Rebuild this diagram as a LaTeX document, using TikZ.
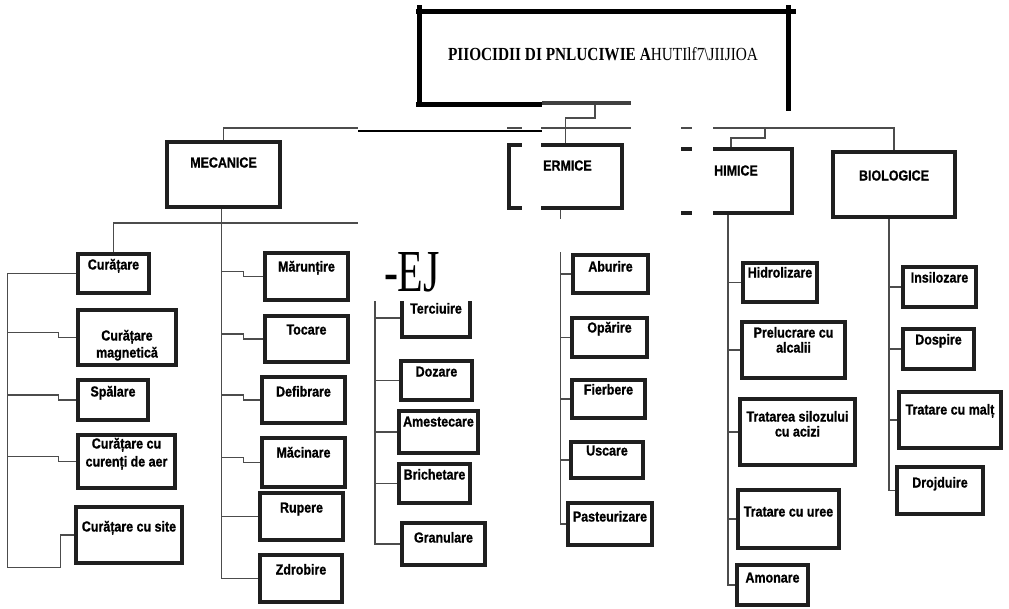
\documentclass[tikz,border=0pt]{standalone}
\usepackage{fontspec}
\usepackage{graphicx}
\setmainfont{Liberation Serif}
\newfontfamily\lblfam{Liberation Sans}[FakeStretch=0.86, BoldFeatures={FakeBold=1}]
\usetikzlibrary{calc}
\newcommand\lblfont{\lblfam\bfseries\fontsize{14.5}{16}\selectfont}
\tikzset{
  box/.style={draw=black!88, line width=3.2pt, inner sep=0pt},
  lbl/.style={font=\lblfont, text=black, inner sep=0pt, anchor=base},
  conn/.style={draw=black!70, line width=1.2pt},
  mask/.style={fill=white, draw=none},
  frame/.style={draw=black, line width=5pt},
}
\newcommand\mkbox[5]{\node[box, minimum width={(#4-#2)*1pt}, minimum height={(#5-#3)*1pt}] (#1) at ({(#2+#4)/2},{(#3+#5)/2}) {};}
\newcommand\mklbl[4]{\node[lbl] (#1) at (#2.center |- 0,#3) {#4};}
\newcommand\jog[3]{\draw[conn] ($(#1 |- #2.west)+(0,-5)$) -- ++(#3,0) |- (#2.west);}
\begin{document}
\begin{tikzpicture}[x=1pt,y=-1pt]
\fill[white] (0,0) rectangle (1009,608);
\useasboundingbox (0,0) rectangle (1009,608);

% category boxes
\mkbox{mec}{167}{142}{280}{207}
\mkbox{ter}{509}{145}{622}{208}
\mkbox{chi}{670}{149}{792}{213}
\mkbox{bio}{833}{152}{955}{217}
% mecanice left
\mkbox{cur}{78}{254}{149}{293}
\mkbox{cmag}{78}{310}{176}{365}
\mkbox{spa}{78}{380}{148}{420}
\mkbox{cca}{78}{435}{175}{488}
\mkbox{csi}{76}{507}{182}{563}
% mecanice right
\mkbox{mar}{265}{253}{348}{300}
\mkbox{toc}{265}{316}{348}{362}
\mkbox{def}{262}{377}{345}{423}
\mkbox{mac}{262}{438}{345}{487}
\mkbox{rup}{260}{493}{343}{540}
\mkbox{zdr}{260}{555}{342}{602}
% middle
\mkbox{trc}{402}{299}{470}{337}
\mkbox{doz}{401}{361}{472}{400}
\mkbox{ame}{399}{411}{478}{453}
\mkbox{bri}{399}{464}{470}{503}
\mkbox{gra}{402}{523}{485}{565}
% termice
\mkbox{abu}{573}{255}{648}{293}
\mkbox{opa}{572}{318}{647}{357}
\mkbox{fie}{572}{380}{645}{418}
\mkbox{usc}{571}{442}{643}{478}
\mkbox{pas}{568}{503}{652}{545}
% chimice
\mkbox{hid}{743}{263}{817}{302}
\mkbox{pre}{742}{322}{845}{378}
\mkbox{tra}{740}{399}{855}{465}
\mkbox{ure}{738}{490}{839}{548}
\mkbox{amo}{737}{565}{808}{605}
% biologice
\mkbox{ins}{903}{267}{976}{307}
\mkbox{dos}{903}{329}{974}{369}
\mkbox{mal}{899}{392}{1001}{448}
\mkbox{dro}{897}{467}{983}{514}

% top connectors
\coordinate (busR) at (894,128);
\draw[conn] (mec.north) |- (busR) -- (bio.north);
\draw[conn] (ter.north) -- (ter.north |- busR);
\coordinate (cj) at (765,128);
\draw[conn] (cj) -- ++(0,10) -| (chi.north);
\coordinate (tb) at (595,104);
\draw[conn] (tb) -- ++(0,14) -| (ter.north |- busR);

% mecanice
\coordinate (mv) at ($(mec.south)+(-2,0)$);
\draw[conn] (mv) |- (zdr.west);
\coordinate (mtop) at (375,223);
\draw[conn] (cur.north) |- (mtop) -- (mtop |- gra.west) -- (gra.west);
\jog{mv}{mar}{22}
\jog{mv}{toc}{22}
\jog{mv}{def}{22}
\jog{mv}{mac}{22}
\draw[conn] (mv |- rup.west) -- (rup.west);
\draw[conn] (cur.west) -- ++(-69,0) coordinate (lt) -- ++(0,294) coordinate (lb) -- ++(53,0) |- (csi.west);
\jog{lt}{cmag}{51}
\jog{lt}{spa}{51}
\jog{lt}{cca}{51}
\draw[conn] (mtop |- trc.west) -- (trc.west);
\draw[conn] (mtop |- doz.west) -- (doz.west);
\draw[conn] (mtop |- ame.west) -- (ame.west);
\draw[conn] (mtop |- bri.west) -- (bri.west);
% termice
\coordinate (tv) at ($(ter.south)+(-5,0)$);
\draw[conn] (tv) |- (pas.west);
\foreach \n in {abu,opa,fie,usc} \draw[conn] (tv |- \n.west) -- (\n.west);
% chimice
\coordinate (cv) at ($(chi.south)+(-3,0)$);
\draw[conn] (cv) |- (amo.west);
\foreach \n in {hid,pre,tra,ure} \draw[conn] (cv |- \n.west) -- (\n.west);
% biologice
\coordinate (bv) at ($(bio.south)+(-5,0)$);
\draw[conn] (bv) |- (dro.west);
\foreach \n in {ins,dos,mal} \draw[conn] (bv |- \n.west) -- (\n.west);

% white patches of the scan
\fill[mask] (358,112) rectangle (507,225);
\fill[mask] (522,112) rectangle (541,225);
\fill[mask] (631,100) rectangle (681,225);
\fill[mask] (692,100) rectangle (713,225);
\fill[mask] (540,219) rectangle (600,252);
\fill[mask] (360,225) rectangle (480,301);

% overlay lines and title frame
\draw[black, line width=1.3pt] (358,131) -- (542,131);
\draw[frame] (419,5) -- (419,106);
\draw[frame] (416,11) -- (796,11);
\draw[frame] (788,5) -- (788,111);
\draw[frame] (416,104) -- (542,104);
\draw[draw=black!75, line width=4pt] (542,103) -- (631,103);
\node[inner sep=0pt] (title) at (603,54) {\resizebox{310pt}{13pt}{\bfseries PIIOCIDII DI PNLUCIWIE A\mdseries HUTIlf7\textbackslash JIIJIOA}};
\node[inner sep=0pt] (ej) at (412,272) {\resizebox{56pt}{39pt}{-EJ}};

% labels
\mklbl{tmec}{mec}{167.5}{MECANICE}
\node[lbl, anchor=base west] (tter) at (543,170.5) {ERMICE};
\node[lbl, anchor=base west] (tchi) at (714,175.5) {HIMICE};
\mklbl{tbio}{bio}{180.5}{BIOLOGICE}
\mklbl{tcur}{cur}{269.5}{Curățare}
\mklbl{tcmaga}{cmag}{340.5}{Curățare}
\mklbl{tcmagb}{cmag}{357.5}{magnetică}
\mklbl{tspa}{spa}{396.5}{Spălare}
\mklbl{tccaa}{cca}{448.5}{Curățare cu}
\mklbl{tccab}{cca}{466.5}{curenți de aer}
\mklbl{tcsi}{csi}{531.5}{Curățare cu site}
\mklbl{tmar}{mar}{271.5}{Mărunțire}
\mklbl{ttoc}{toc}{334.5}{Tocare}
\mklbl{tdef}{def}{396.5}{Defibrare}
\mklbl{tmac}{mac}{457.5}{Măcinare}
\mklbl{trup}{rup}{512.5}{Rupere}
\mklbl{tzdr}{zdr}{574.5}{Zdrobire}
\mklbl{ttrc}{trc}{313.5}{Terciuire}
\mklbl{tdoz}{doz}{376.5}{Dozare}
\mklbl{tame}{ame}{426.5}{Amestecare}
\mklbl{tbri}{bri}{479.5}{Brichetare}
\mklbl{tgra}{gra}{542.5}{Granulare}
\mklbl{tabu}{abu}{271.5}{Aburire}
\mklbl{topa}{opa}{332.5}{Opărire}
\mklbl{tfie}{fie}{394.5}{Fierbere}
\mklbl{tusc}{usc}{455.5}{Uscare}
\mklbl{tpas}{pas}{521.5}{Pasteurizare}
\mklbl{thid}{hid}{277.5}{Hidrolizare}
\mklbl{tprea}{pre}{337.5}{Prelucrare cu}
\mklbl{tpreb}{pre}{352.5}{alcalii}
\mklbl{ttraa}{tra}{421.5}{Tratarea silozului}
\mklbl{ttrab}{tra}{436.5}{cu acizi}
\mklbl{ture}{ure}{516.5}{Tratare cu uree}
\mklbl{tamo}{amo}{582.5}{Amonare}
\mklbl{tins}{ins}{282.5}{Insilozare}
\mklbl{tdos}{dos}{344.5}{Dospire}
\mklbl{tmal}{mal}{414.5}{Tratare cu malț}
\mklbl{tdro}{dro}{487.5}{Drojduire}
\end{tikzpicture}
\end{document}
